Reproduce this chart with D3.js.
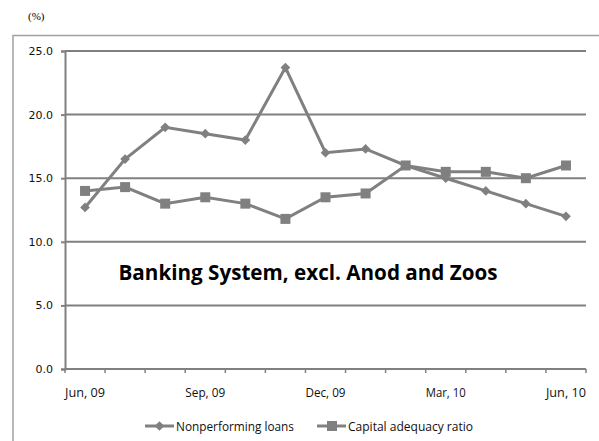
<!DOCTYPE html>
<html>
<head>
<meta charset="utf-8">
<script src="https://cdn.jsdelivr.net/npm/d3@7"></script>
<style>
  body { margin: 0; background: #fff; }
  svg { display: block; }
</style>
</head>
<body>
<div class="chart"></div>
<script>
// monthly data, Jun 09 .. Jun 10
var months = ["Jun, 09", "Jul, 09", "Aug, 09", "Sep, 09", "Oct, 09", "Nov, 09", "Dec, 09",
  "Jan, 10", "Feb, 10", "Mar, 10", "Apr, 10", "May, 10", "Jun, 10"];
var npl = [12.7, 16.5, 19.0, 18.5, 18.0, 23.7, 17.0, 17.3, 16.0, 15.0, 14.0, 13.0, 12.0];
var car = [14.0, 14.3, 13.0, 13.5, 13.0, 11.8, 13.5, 13.8, 16.0, 15.5, 15.5, 15.0, 16.0];
var yTicks = [0, 5, 10, 15, 20, 25];
var shownLabels = ["Jun, 09", "Sep, 09", "Dec, 09", "Mar, 10", "Jun, 10"];

var width = 599, height = 441;
var grey = "#808080";

var svg = d3.select(".chart").append("svg")
  .attr("width", width)
  .attr("height", height);

// outer frame (runs off the picture at right and bottom)
svg.append("rect")
  .attr("x", 13).attr("y", 35.5)
  .attr("width", 620).attr("height", 440)
  .style("fill", "none")
  .style("stroke", "#a0a0a0")
  .style("stroke-width", "1.5px");

svg.append("text")
  .attr("x", 28).attr("y", 20)
  .style("font-family", "Liberation Serif")
  .style("font-size", "11px")
  .text("(%)");

var x = d3.scaleBand().domain(months).range([65, 586]);
var y = d3.scaleLinear().domain([0, 25]).range([369, 51]);

// gridlines
svg.selectAll(".grid").data(yTicks.slice(1)).enter()
  .append("line")
  .attr("class", "grid")
  .attr("x1", x.range()[0]).attr("x2", x.range()[1])
  .attr("y1", function (d) { return y(d); })
  .attr("y2", function (d) { return y(d); })
  .style("stroke", grey)
  .style("stroke-width", "2px");

// y axis
var yAxis = svg.append("g")
  .attr("transform", "translate(" + x.range()[0] + ",0)")
  .call(d3.axisLeft(y).tickValues(yTicks).tickFormat(d3.format(".1f")).tickSize(4).tickPadding(8));
yAxis.select(".domain").style("stroke", grey).style("stroke-width", "2px");
yAxis.selectAll(".tick line").style("stroke", grey).style("stroke-width", "2px");
yAxis.selectAll("text")
  .style("font-family", "DejaVu Sans")
  .style("font-size", "11px")
  .style("fill", "#111");

// x axis line and ticks at band edges
var edges = months.map(function (m) { return x(m); }).concat([x.range()[1]]);
svg.append("line")
  .attr("x1", x.range()[0]).attr("x2", x.range()[1])
  .attr("y1", y(0)).attr("y2", y(0))
  .style("stroke", grey).style("stroke-width", "2px");
svg.selectAll(".xtick").data(edges).enter()
  .append("line")
  .attr("class", "xtick")
  .attr("x1", function (d) { return d; }).attr("x2", function (d) { return d; })
  .attr("y1", y(0)).attr("y2", y(0) + 4)
  .style("stroke", grey).style("stroke-width", "1.5px");
svg.selectAll(".xlabel").data(shownLabels).enter()
  .append("text")
  .attr("class", "xlabel")
  .attr("x", function (d) { return x(d) + x.bandwidth() / 2; })
  .attr("y", y(0) + 28)
  .attr("text-anchor", "middle")
  .attr("textLength", 40)
  .attr("lengthAdjust", "spacingAndGlyphs")
  .style("font-family", "Open Sans")
  .style("font-size", "12.5px")
  .style("fill", "#111")
  .text(function (d) { return d; });

function cx(d, i) { return x(months[i]) + x.bandwidth() / 2; }

var line = d3.line()
  .x(cx)
  .y(function (d) { return y(d); });

[npl, car].forEach(function (series) {
  svg.append("path")
    .datum(series)
    .attr("d", line)
    .style("fill", "none")
    .style("stroke", grey)
    .style("stroke-width", "3px");
});

var diamond = d3.symbol().type(d3.symbolDiamond2).size(60);
svg.selectAll(".npl").data(npl).enter()
  .append("path")
  .attr("class", "npl")
  .attr("transform", function (d, i) { return "translate(" + cx(d, i) + "," + y(d) + ")"; })
  .attr("d", diamond)
  .style("fill", grey);

svg.selectAll(".car").data(car).enter()
  .append("rect")
  .attr("class", "car")
  .attr("x", function (d, i) { return cx(d, i) - 5; })
  .attr("y", function (d) { return y(d) - 5; })
  .attr("width", 10).attr("height", 10)
  .style("fill", grey);

// chart title inside plot
svg.append("text")
  .attr("x", 308).attr("y", 280)
  .attr("text-anchor", "middle")
  .attr("textLength", 379)
  .attr("lengthAdjust", "spacingAndGlyphs")
  .style("font-family", "Open Sans")
  .style("font-weight", "bold")
  .style("font-size", "21px")
  .text("Banking System, excl. Anod and Zoos");

// legend
var legend = [
  { name: "Nonperforming loans", x: 145, w: 118, mark: "diamond" },
  { name: "Capital adequacy ratio", x: 317, w: 125, mark: "square" }
];
var ly = 426;
legend.forEach(function (l) {
  var g = svg.append("g");
  g.append("line")
    .attr("x1", l.x).attr("x2", l.x + 29)
    .attr("y1", ly).attr("y2", ly)
    .style("stroke", grey).style("stroke-width", "3px");
  if (l.mark === "diamond") {
    g.append("path")
      .attr("transform", "translate(" + (l.x + 14.5) + "," + ly + ")")
      .attr("d", diamond)
      .style("fill", grey);
  } else {
    g.append("rect")
      .attr("x", l.x + 10).attr("y", ly - 5)
      .attr("width", 10).attr("height", 10)
      .style("fill", grey);
  }
  g.append("text")
    .attr("x", l.x + 31).attr("y", ly + 4.5)
    .attr("textLength", l.w)
    .attr("lengthAdjust", "spacingAndGlyphs")
    .style("font-family", "Open Sans")
    .style("font-size", "12.5px")
    .style("fill", "#111")
    .text(l.name);
});
</script>
</body>
</html>
